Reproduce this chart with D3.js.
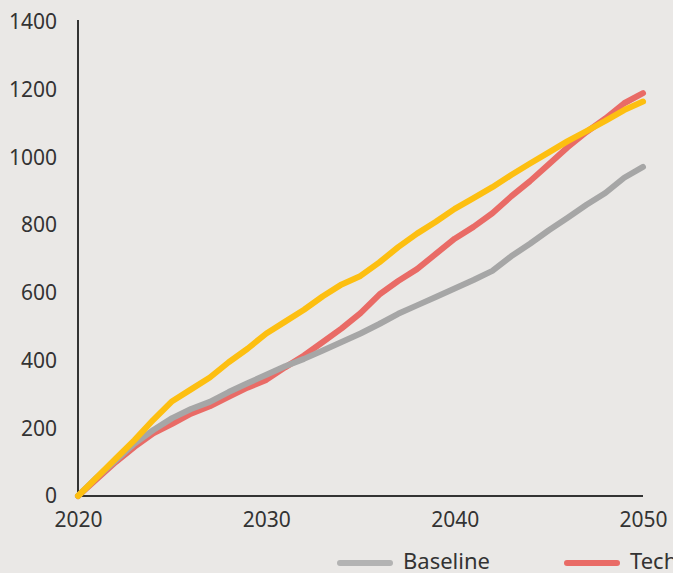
<!DOCTYPE html>
<html>
<head>
<meta charset="utf-8">
<script src="https://cdn.jsdelivr.net/npm/d3@7"></script>
<style>
  html, body { margin: 0; padding: 0; background: #eae8e6; }
  svg { display: block; }
  text { font-family: "Noto Sans", Lato, sans-serif; fill: #333; }
</style>
</head>
<body>
<svg id="chart" width="673" height="573"></svg>
<script>
// Cumulative values by year, 2020–2050
const years = d3.range(2020, 2051);
const baseline = [0, 55, 105, 155, 195, 230, 257, 278, 307, 333, 358, 383, 405, 430, 455, 480, 508, 538, 563, 588, 613, 638, 665, 708, 745, 785, 822, 860, 895, 940, 972];
const tech = [0, 50, 100, 145, 185, 213, 243, 265, 293, 320, 343, 380, 415, 455, 495, 540, 595, 635, 670, 715, 760, 795, 835, 885, 930, 980, 1030, 1075, 1115, 1160, 1190];
const third = [0, 55, 110, 165, 225, 280, 315, 350, 395, 435, 480, 515, 550, 590, 625, 650, 690, 735, 775, 810, 848, 880, 912, 948, 982, 1015, 1048, 1078, 1108, 1140, 1165];
const yTicks = [0, 200, 400, 600, 800, 1000, 1200, 1400];
const xTicks = [2020, 2030, 2040, 2050];

const series = [
  { name: "Tech", values: tech, color: "#e96b66" },
  { name: "Baseline", values: baseline, color: "#a6a6a6" },
  { name: "", values: third, color: "#fdbf11" }
];

const svg = d3.select("#chart");
const x = d3.scaleLinear().domain([2020, 2050]).range([78, 643]);
const y = d3.scaleLinear().domain([0, 1400]).range([496, 22]);

// Axes
const yAxis = svg.append("g").attr("transform", "translate(78,0)")
  .call(d3.axisLeft(y).tickValues(yTicks).tickSize(0).tickPadding(21).tickFormat(d3.format("d")));
yAxis.select(".domain").attr("stroke", "#333").attr("stroke-width", 2).attr("d", "M0,20V497");
yAxis.selectAll("text").attr("font-size", 21).attr("fill", "#333");

const xAxis = svg.append("g").attr("transform", "translate(0,496)")
  .call(d3.axisBottom(x).tickValues(xTicks).tickSize(0).tickPadding(16).tickFormat(d3.format("d")));
xAxis.select(".domain").attr("stroke", "#333").attr("stroke-width", 2).attr("d", "M77,0H643");
xAxis.selectAll("text").attr("font-size", 21).attr("fill", "#333");

// Lines
const line = d3.line().x((d, i) => x(years[i])).y(d => y(d));
svg.append("g").selectAll("path").data(series).join("path")
  .attr("d", d => line(d.values))
  .attr("fill", "none")
  .attr("stroke", d => d.color)
  .attr("stroke-width", 6)
  .attr("stroke-linejoin", "round")
  .attr("stroke-linecap", "round");

// Legend
const legendItems = [
  { name: "Baseline", color: "#b3b3b3", x: 338 },
  { name: "Tech", color: "#e96b66", x: 565 }
];
const lg = svg.append("g").selectAll("g").data(legendItems).join("g")
  .attr("transform", d => `translate(${d.x},563)`);
lg.append("line").attr("x1", 2).attr("x2", 52).attr("y1", 0).attr("y2", 0)
  .attr("stroke", d => d.color).attr("stroke-width", 6).attr("stroke-linecap", "round");
lg.append("text").attr("x", 65).attr("y", 6).attr("font-size", 22).text(d => d.name);
</script>
</body>
</html>
